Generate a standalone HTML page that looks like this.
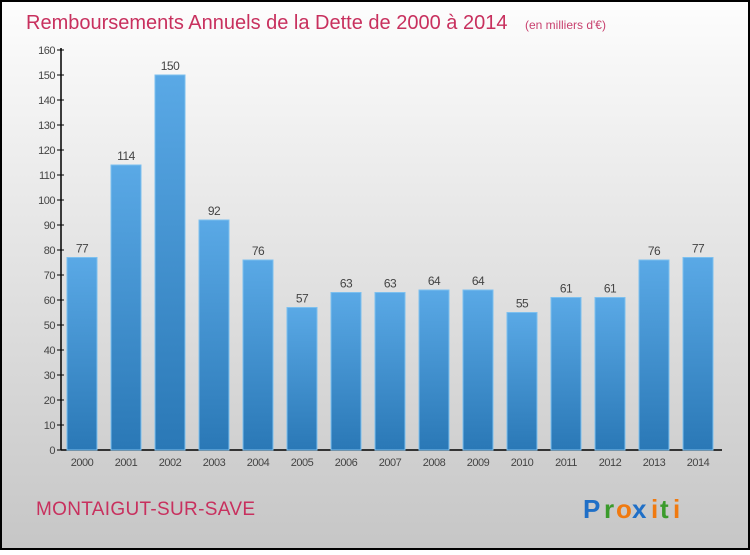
<!DOCTYPE html>
<html><head><meta charset="utf-8"><style>
html,body{margin:0;padding:0}
body{width:750px;height:550px;overflow:hidden;font-family:"Liberation Sans",sans-serif}
</style></head><body>
<svg width="750" height="550" xmlns="http://www.w3.org/2000/svg">
<defs>
<linearGradient id="bg" x1="0" y1="0" x2="0" y2="1"><stop offset="0" stop-color="#fdfdfd"/><stop offset="1" stop-color="#c6c6c6"/></linearGradient>
<linearGradient id="bar" x1="0" y1="0" x2="0" y2="1"><stop offset="0" stop-color="#5aa9e6"/><stop offset="1" stop-color="#2a78b6"/></linearGradient>
</defs>
<rect x="1" y="1" width="748" height="548" fill="url(#bg)" stroke="#000" stroke-width="2"/>
<text x="26" y="29" font-size="20" fill="#c8305e">Remboursements Annuels de la Dette de 2000 à 2014 <tspan font-size="12" dx="12" fill="#c8406e">(en milliers d'€)</tspan></text>
<g id="yaxis"></g>
<g id="bars"></g>
<text x="36" y="515" font-size="19" fill="#c8305e" textLength="219">MONTAIGUT-SUR-SAVE</text>
<g font-size="26" font-weight="bold">
<text x="583" y="518" fill="#1f6fc7">P</text><text x="604" y="518" fill="#3b9b2c">r</text><text x="616" y="518" fill="#f07a10">o</text><text x="632" y="518" fill="#1f6fc7">x</text><text x="651" y="518" fill="#f07a10">i</text><text x="660" y="518" fill="#3b9b2c">t</text><text x="673" y="518" fill="#f07a10">i</text>
</g>
</svg>
<script>
const categories=["2000","2001","2002","2003","2004","2005","2006","2007","2008","2009","2010","2011","2012","2013","2014"];
const values=[77,114,150,92,76,57,63,63,64,64,55,61,61,76,77];
const yTicks=[0,10,20,30,40,50,60,70,80,90,100,110,120,130,140,150,160];
const NS="http://www.w3.org/2000/svg";
const y=v=>450-v*2.5, x=i=>82+i*44;
function mk(t,a,p){const e=document.createElementNS(NS,t);for(const k in a)e.setAttribute(k,a[k]);p.appendChild(e);return e;}
const ya=document.getElementById('yaxis'), bg=document.getElementById('bars');
mk('line',{x1:61,y1:48,x2:61,y2:450,stroke:'#000','stroke-width':1.5},ya);
mk('line',{x1:61,y1:450,x2:722,y2:450,stroke:'#000','stroke-width':1.5},ya);
yTicks.forEach(v=>{
 const l=mk('line',{x1:57,y1:y(v),x2:64,y2:y(v),stroke:'#000'},ya);
 
 
 const t=mk('text',{x:55,y:y(v)+4,'font-size':11,fill:'#444','text-anchor':'end','letter-spacing':'-0.5'},ya);
 t.textContent=v;
 
 
});
values.forEach((v,i)=>{
 const r=mk('rect',{x:x(i)-15,y:y(v),width:30,height:450-y(v),fill:'url(#bar)',stroke:'#7cc0ef','stroke-width':1},bg);
 
 
 const t=mk('text',{x:x(i),y:y(v)-5,'font-size':12,fill:'#444','text-anchor':'middle','letter-spacing':'-0.5'},bg);
 t.textContent=v;
 
 
 const c=mk('text',{x:x(i),y:466,'font-size':11,fill:'#444','text-anchor':'middle','letter-spacing':'-0.5'},bg);
 c.textContent=categories[i];
 
 
});
</script>
</body></html>
